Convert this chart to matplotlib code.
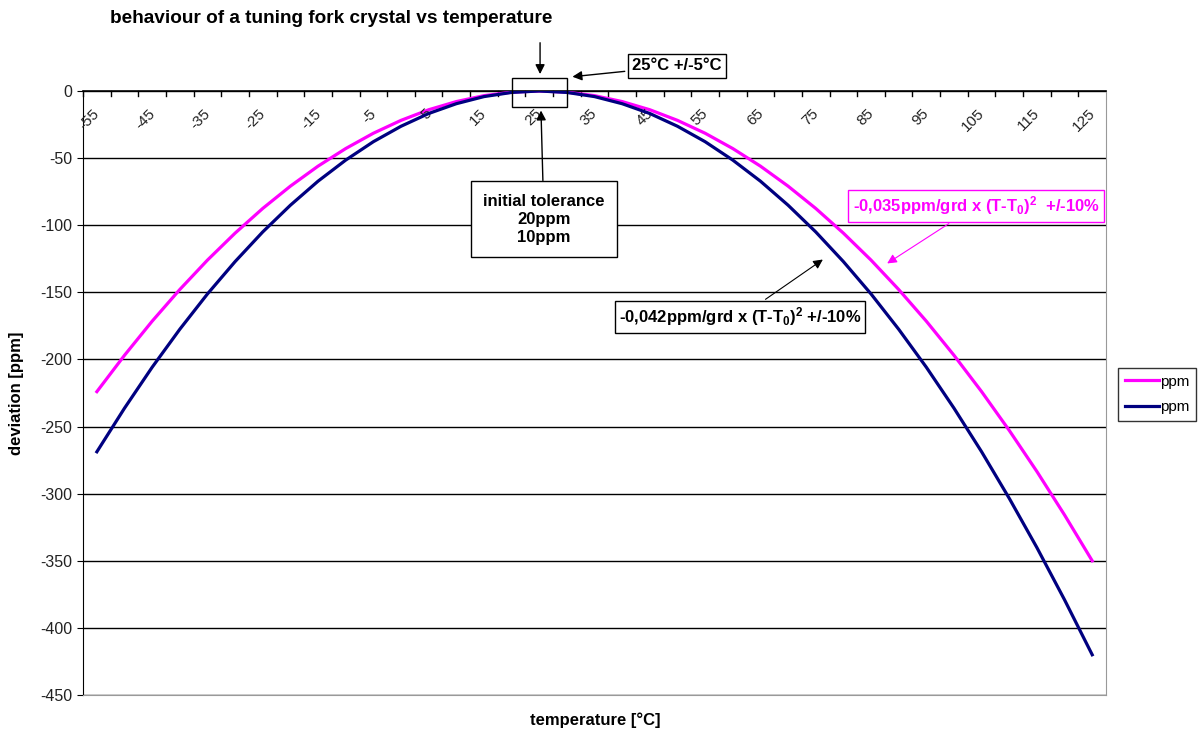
import numpy as np
import matplotlib
matplotlib.use('Agg')
import matplotlib.pyplot as plt
from matplotlib.patches import Rectangle

plt.rcParams['font.family'] = ['Liberation Sans', 'DejaVu Sans']
plt.rcParams['axes.unicode_minus'] = False
plt.rcParams['mathtext.fontset'] = 'custom'
plt.rcParams['mathtext.rm'] = 'Liberation Sans'
plt.rcParams['mathtext.bf'] = 'Liberation Sans:bold'
plt.rcParams['mathtext.default'] = 'bf'

# temperature categories (°C)
temps = list(range(-55, 130, 5))

# deviation [ppm]
ppm_035 = [-224.0, -196.9, -171.5, -147.9, -126.0, -105.9, -87.5, -70.9, -56.0,
           -42.9, -31.5, -21.9, -14.0, -7.9, -3.5, -0.9, 0.0, -0.9, -3.5, -7.9,
           -14.0, -21.9, -31.5, -42.9, -56.0, -70.9, -87.5, -105.9, -126.0,
           -147.9, -171.5, -196.9, -224.0, -252.9, -283.5, -315.9, -350.0]
ppm_042 = [-268.8, -236.3, -205.8, -177.5, -151.2, -127.1, -105.0, -85.1, -67.2,
           -51.5, -37.8, -26.3, -16.8, -9.5, -4.2, -1.1, 0.0, -1.1, -4.2, -9.5,
           -16.8, -26.3, -37.8, -51.5, -67.2, -85.1, -105.0, -127.1, -151.2,
           -177.5, -205.8, -236.3, -268.8, -303.5, -340.2, -379.1, -420.0]

fig = plt.figure(figsize=(12, 7.33), dpi=100)
ax = fig.add_axes([0.0692, 0.0518, 0.8525, 0.8241])

x = np.arange(len(temps))
ax.plot(x, ppm_035, color='#FF00FF', lw=2.3, label='ppm', zorder=3)
ax.plot(x, ppm_042, color='#000080', lw=2.3, label='ppm', zorder=4)

ax.set_xlim(-0.5, len(temps) - 0.5)
ax.set_ylim(-450, 0)
ax.set_yticks(np.arange(-450, 1, 50))
ax.tick_params(axis='y', labelsize=11.5, length=4, direction='out',
               labelcolor='#222222')
ax.yaxis.grid(True, color='black', lw=1)
ax.set_axisbelow(True)

# category axis sits at y = 0, ticks between categories
ax.set_xticks([])
for i in x:
    ax.plot([i - 0.5, i - 0.5], [0, -4], color='black', lw=1, clip_on=False)
for i in x[::2]:
    ax.text(i + 0.2, -11.5, str(temps[i]), rotation=45, ha='right', va='top',
            fontsize=11, color='#222222')

ax.spines['top'].set_color('black')
ax.spines['top'].set_linewidth(1.2)
ax.spines['left'].set_color('black')
ax.spines['bottom'].set_color('#999999')
ax.spines['right'].set_color('#999999')

ax.set_ylabel('deviation [ppm]', fontsize=12, fontweight='bold', labelpad=12)
fig.text(0.496, 0.018, 'temperature [°C]', fontsize=12, fontweight='bold',
         ha='center', va='center')
fig.text(0.092, 0.975, 'behaviour of a tuning fork crystal vs temperature',
         fontsize=13.7, fontweight='bold', ha='left', va='center')

# tolerance window around turnover point
ax.add_patch(Rectangle((15, -12), 2, 22, fill=False, edgecolor='black', lw=1,
                       clip_on=False, zorder=5))
arr = dict(arrowstyle='-|>', color='black', lw=1, mutation_scale=14)
ax.annotate('', xy=(16.03, 10.5), xytext=(16.03, 38), arrowprops=arr,
            annotation_clip=False)
ax.annotate('25°C +/-5°C', xy=(17.1, 10.4), xytext=(20.98, 18.6),
            fontsize=12, fontweight='bold', ha='center', va='center',
            bbox=dict(boxstyle='square,pad=0.25', fc='white', ec='black', lw=1),
            arrowprops=arr, annotation_clip=False)
ax.annotate('initial tolerance\n20ppm\n10ppm', xy=(16.06, -12.5),
            xytext=(16.17, -95.4), fontsize=12, fontweight='bold',
            ha='center', va='center', linespacing=1.25,
            bbox=dict(boxstyle='square,pad=0.75', fc='white', ec='black', lw=1),
            arrowprops=dict(arrowstyle='-|>', color='black', lw=1,
                            mutation_scale=14, shrinkA=0))

ax.annotate(r'-0,035ppm/grd x (T-T$_0$)$^2$  +/-10%', xy=(28.5, -129.6),
            xytext=(31.8, -85.7), fontsize=12, fontweight='bold',
            color='#FF00FF', ha='center', va='center',
            bbox=dict(boxstyle='square,pad=0.25', fc='white', ec='#FF00FF', lw=1),
            arrowprops=dict(arrowstyle='-|>', color='#FF00FF', lw=0.8,
                            mutation_scale=14), zorder=6)
ax.annotate(r'-0,042ppm/grd x (T-T$_0$)$^2$ +/-10%', xy=(26.34, -124.4),
            xytext=(23.26, -168.4), fontsize=12, fontweight='bold',
            color='black', ha='center', va='center',
            bbox=dict(boxstyle='square,pad=0.25', fc='white', ec='black', lw=1),
            arrowprops=dict(arrowstyle='-|>', color='black', lw=0.8,
                            mutation_scale=14), zorder=6)

fig.legend(loc='upper left', bbox_to_anchor=(0.9317, 0.498), fontsize=11,
           frameon=True, fancybox=False, edgecolor='black', handlelength=2.2,
           borderpad=0.45, labelspacing=0.75, handletextpad=0.1,
           borderaxespad=0)

fig.savefig('out.png', dpi=100)
